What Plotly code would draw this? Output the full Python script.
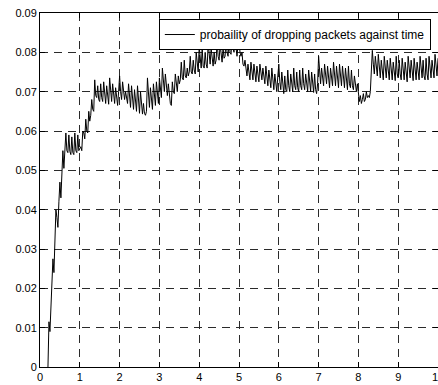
import numpy as np
import plotly.graph_objects as go

series_name = "probaility of dropping packets against time"
x_ticks = [0, 1, 2, 3, 4, 5, 6, 7, 8, 9, 10]
y_ticks = [0, 0.01, 0.02, 0.03, 0.04, 0.05, 0.06, 0.07, 0.08, 0.09]
y_tick_labels = ["0", "0.01", "0.02", "0.03", "0.04", "0.05", "0.06", "0.07", "0.08", "0.09"]

# t = 0.2 .. 0.975
seg0 = [0.0000, 0.0115, 0.0090, 0.0140, 0.0200, 0.0275, 0.0240, 0.0320, 0.0400, 0.0380,
        0.0355, 0.0420, 0.0470, 0.0430, 0.0500, 0.0550, 0.0505, 0.0540, 0.0595, 0.0550,
        0.0545, 0.0590, 0.0548, 0.0540, 0.0585, 0.0545, 0.0540, 0.0595, 0.0550, 0.0545,
        0.0590, 0.0550]
seg1 = [0.0555, 0.0560, 0.0550, 0.0600, 0.0595, 0.0580, 0.0630, 0.0600, 0.0595, 0.0650,
        0.0625, 0.0640, 0.0680, 0.0655, 0.0650, 0.0730, 0.0690, 0.0685, 0.0715, 0.0680,
        0.0675, 0.0720, 0.0685, 0.0675, 0.0725, 0.0690, 0.0670, 0.0715, 0.0680, 0.0668,
        0.0735, 0.0700, 0.0675, 0.0720, 0.0685, 0.0670, 0.0710, 0.0678, 0.0665, 0.0700]
seg2 = [0.0740, 0.0700, 0.0680, 0.0725, 0.0690, 0.0680, 0.0700, 0.0678, 0.0670, 0.0720,
        0.0680, 0.0660, 0.0715, 0.0670, 0.0655, 0.0705, 0.0665, 0.0650, 0.0715, 0.0670,
        0.0645, 0.0700, 0.0655, 0.0643, 0.0670, 0.0645, 0.0640, 0.0650, 0.0735, 0.0680,
        0.0660, 0.0710, 0.0670, 0.0655, 0.0720, 0.0680, 0.0665, 0.0725, 0.0685, 0.0670]
seg3 = [0.0735, 0.0700, 0.0685, 0.0760, 0.0715, 0.0700, 0.0745, 0.0705, 0.0690, 0.0720,
        0.0690, 0.0670, 0.0665, 0.0725, 0.0700, 0.0695, 0.0745, 0.0710, 0.0700, 0.0740,
        0.0720, 0.0730, 0.0775, 0.0735, 0.0730, 0.0780, 0.0740, 0.0735, 0.0760, 0.0740,
        0.0750, 0.0790, 0.0750, 0.0745, 0.0780, 0.0755, 0.0745, 0.0800, 0.0760, 0.0750]
seg4 = [0.0815, 0.0775, 0.0760, 0.0810, 0.0765, 0.0760, 0.0800, 0.0770, 0.0760, 0.0825,
        0.0785, 0.0770, 0.0810, 0.0775, 0.0765, 0.0800, 0.0770, 0.0780, 0.0830, 0.0790,
        0.0780, 0.0820, 0.0790, 0.0775, 0.0810, 0.0785, 0.0790, 0.0835, 0.0800, 0.0790,
        0.0830, 0.0800, 0.0795, 0.0840, 0.0810, 0.0800, 0.0835, 0.0810, 0.0790, 0.0820]
seg5 = [0.0830, 0.0800, 0.0790, 0.0800, 0.0770, 0.0765, 0.0780, 0.0760, 0.0740, 0.0770,
        0.0740, 0.0730, 0.0775, 0.0740, 0.0730, 0.0770, 0.0740, 0.0725, 0.0765, 0.0735,
        0.0725, 0.0770, 0.0740, 0.0730, 0.0760, 0.0730, 0.0720, 0.0765, 0.0730, 0.0715,
        0.0755, 0.0725, 0.0710, 0.0760, 0.0720, 0.0705, 0.0745, 0.0715, 0.0700, 0.0740]
seg6 = [0.0770, 0.0725, 0.0705, 0.0750, 0.0710, 0.0695, 0.0740, 0.0705, 0.0700, 0.0755,
        0.0715, 0.0700, 0.0745, 0.0710, 0.0700, 0.0760, 0.0715, 0.0705, 0.0750, 0.0710,
        0.0700, 0.0755, 0.0715, 0.0705, 0.0760, 0.0720, 0.0705, 0.0745, 0.0710, 0.0700,
        0.0755, 0.0715, 0.0700, 0.0750, 0.0710, 0.0698, 0.0745, 0.0705, 0.0695, 0.0720]
seg7 = [0.0790, 0.0740, 0.0720, 0.0760, 0.0725, 0.0715, 0.0770, 0.0730, 0.0720, 0.0765,
        0.0725, 0.0710, 0.0760, 0.0725, 0.0715, 0.0775, 0.0730, 0.0715, 0.0765, 0.0725,
        0.0710, 0.0770, 0.0730, 0.0715, 0.0765, 0.0725, 0.0710, 0.0760, 0.0720, 0.0705,
        0.0765, 0.0720, 0.0710, 0.0755, 0.0715, 0.0705, 0.0740, 0.0710, 0.0700, 0.0720]
seg8 = [0.0700, 0.0675, 0.0690, 0.0670, 0.0680, 0.0695, 0.0675, 0.0680, 0.0700, 0.0685,
        0.0690, 0.0685, 0.0700, 0.0760, 0.0805, 0.0770, 0.0745, 0.0790, 0.0750, 0.0740,
        0.0795, 0.0750, 0.0735, 0.0780, 0.0745, 0.0730, 0.0790, 0.0750, 0.0735, 0.0780,
        0.0740, 0.0730, 0.0785, 0.0745, 0.0730, 0.0775, 0.0740, 0.0728, 0.0790, 0.0745]
seg9 = [0.0735, 0.0780, 0.0745, 0.0730, 0.0785, 0.0745, 0.0730, 0.0775, 0.0740, 0.0725,
        0.0790, 0.0750, 0.0735, 0.0780, 0.0740, 0.0728, 0.0785, 0.0745, 0.0730, 0.0775,
        0.0740, 0.0730, 0.0790, 0.0750, 0.0735, 0.0780, 0.0740, 0.0730, 0.0785, 0.0745,
        0.0730, 0.0790, 0.0750, 0.0735, 0.0780, 0.0745, 0.0735, 0.0795, 0.0755, 0.0740,
        0.0785]

drop_prob = seg0 + seg1 + seg2 + seg3 + seg4 + seg5 + seg6 + seg7 + seg8 + seg9
time = np.round(0.2 + 0.025 * np.arange(len(drop_prob)), 3)

fig = go.Figure()
fig.add_trace(go.Scatter(x=time, y=drop_prob, mode="lines", name=series_name,
                         line=dict(color="black", width=1)))

font = dict(family="Liberation Sans, Arial, sans-serif", size=11, color="black")
legend_font = dict(family="Liberation Sans, Arial, sans-serif", size=12, color="black")
axis_common = dict(showline=True, linecolor="black", linewidth=1, mirror="ticks",
                   ticks="inside", ticklen=5, tickcolor="black",
                   showgrid=True, gridcolor="#2a2a2a", gridwidth=1, griddash="8px,6px",
                   zeroline=False, tickfont=font, automargin=False)
fig.update_xaxes(range=[0, 10], tickvals=x_ticks, ticktext=[str(v) for v in x_ticks], **axis_common)
fig.update_yaxes(range=[0, 0.09], tickvals=y_ticks, ticktext=y_tick_labels, **axis_common)

fig.update_layout(
    width=446, height=385,
    margin=dict(l=40, r=8, t=13, b=18),
    paper_bgcolor="white", plot_bgcolor="white",
    font=font,
    showlegend=True,
    legend=dict(x=0.982, y=0.983, xanchor="right", yanchor="top",
                bgcolor="white", bordercolor="black", borderwidth=1,
                font=legend_font, itemwidth=30, tracegroupgap=0),
)
fig.write_html("out.html",
               config={"displayModeBar": False},
               post_script="document.body.style.margin='0';document.body.style.overflow='hidden';")
